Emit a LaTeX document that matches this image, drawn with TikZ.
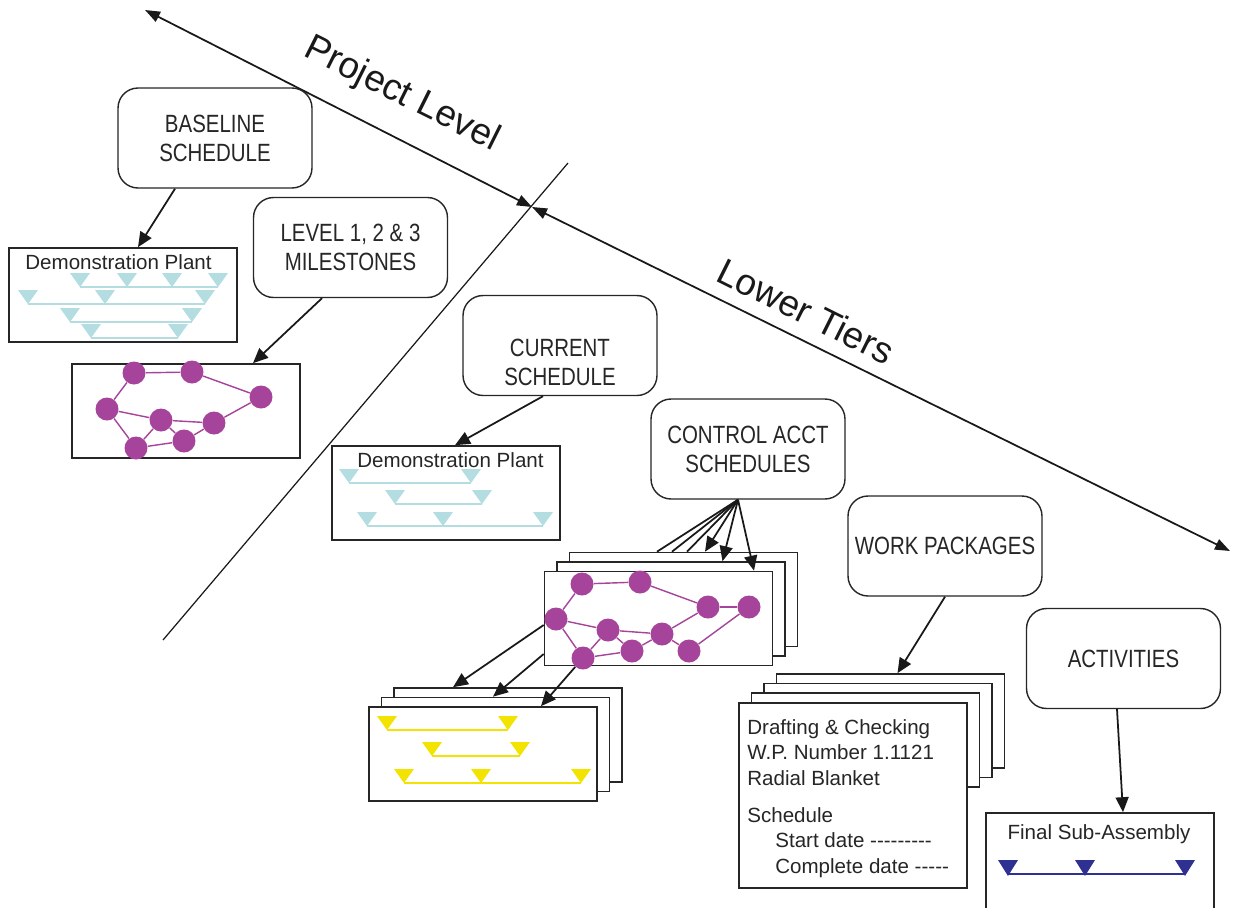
\documentclass[tikz,border=0pt]{standalone}
\usepackage{fontspec}
\setmainfont{Liberation Sans}
\newfontfamily\condfont[FakeStretch=0.82]{Liberation Sans}
\usetikzlibrary{arrows.meta}
\definecolor{hellblau}{HTML}{B3DDE1}
\definecolor{lila}{HTML}{A5449A}
\definecolor{gelb}{HTML}{F2E400}
\definecolor{dunkelblau}{HTML}{2E3192}

\begin{document}
\begin{tikzpicture}[x=0.02cm,y=-0.02cm]
				% Einstellungen für Kästchen, Pläne und Pfeile
				\tikzset{
					rbox/.style={
						draw=black!85, % dunkle Linie
						line width=0.8pt,
						rounded corners=0.4cm, % runde Ecken
						fill=white,
						minimum width=3.88cm, minimum height=2cm,
						align=center,
						text=black!85,
						font=\condfont\fontsize{14.2}{16.5}\selectfont
					},
					rtext/.style={align=center, text=black!85, font=\condfont\fontsize{14.2}{16.5}\selectfont},
					plan/.style={
						draw=black!85, line width=0.95pt, fill=white, % weißes Blatt
						minimum width=4.56cm, minimum height=1.88cm, inner sep=0pt
					},
					titel/.style={font=\fontsize{11.7}{14.5}\selectfont, text=black!85, inner sep=0pt},
					gross/.style={font=\fontsize{21}{25}\selectfont, text=black!90},
					dot/.style={circle, fill=lila, minimum size=0.46cm, inner sep=0pt},
					kante/.style={draw=lila, line width=0.8pt},
					linie/.style={draw=black!90, line width=1pt},
					pfeil/.style={linie, -{Triangle[length=3mm,width=2.6mm]}},
					doppelpfeil/.style={linie, {Triangle[length=3mm,width=2.2mm]}-{Triangle[length=3mm,width=2.2mm]}}
				}
				\useasboundingbox (0,0) rectangle (1238,907);
				
				% Grosse Achse mit Trennlinie
				\coordinate (pl) at (145,10);
				\coordinate (kreuz) at (532,207);
				\coordinate (lt) at (1230,551);
				\coordinate (t1) at (163,640);
				\coordinate (t2) at (568,163);
				\draw[doppelpfeil] (pl) -- (kreuz);
				\draw[doppelpfeil] (kreuz) -- (lt);
				\draw[draw=black!90, line width=0.7pt] (t1) -- (t2);
				\node[gross, rotate=-26.5] (projlvl) at (402,95) {Project Level};
				\node[gross, rotate=-26.5] (lowtier) at (806,311) {Lower Tiers};
				
				% Runde Kästchen
				\node[rbox] (base) at (215,138) {BASELINE\\SCHEDULE};
				\node[rbox] (lev) at (350.5,247.5) {LEVEL 1, 2 \& 3\\MILESTONES};
				\node[rbox] (cur) at (560,345.5) {};
				\node[rtext] (curtext) at (560,362) {CURRENT\\SCHEDULE};
				\node[rbox] (ctrl) at (748,449) {CONTROL ACCT\\SCHEDULES};
				\node[rbox] (work) at (945,546) {WORK PACKAGES};
				\node[rbox] (act) at (1123.5,658.5) {ACTIVITIES};
				
				% Baseline: Demonstration Plant
				\node[plan] (demoA) at (123,295) {};
				\node[titel, anchor=base] (demoAtitel) at (118.5,269) {Demonstration Plant};
				\foreach \a/\b/\y in {80/218/287, 28/205/304, 70/192/322, 91/178/338}
					\draw[hellblau, line width=0.9pt] (\a,\y) -- (\b,\y);
				\foreach \x/\y in {80/287, 127/287, 172/287, 218/287, 28/304, 105/304, 205/304, 70/322, 192/322, 91/338, 178/338}
					\fill[hellblau] (\x-10,\y-14) -- (\x+10,\y-14) -- (\x,\y) -- cycle;
				
				% Netzplan der Meilensteine
				\node[plan] (netA) at (186,411) {};
				\foreach \n/\x/\y in {1/134/373, 2/192/372, 3/261/397, 4/107/409, 5/161/420, 6/214/423, 7/184/441, 8/136/448}
					\node[dot] (a\n) at (\x,\y) {};
				\foreach \p/\q in {1/2, 2/3, 1/4, 4/5, 5/6, 6/3, 4/8, 8/7, 5/8, 5/7, 7/6}
					\draw[kante] (a\p) -- (a\q);
				
				% Current: Demonstration Plant
				\node[plan] (demoB) at (446,493) {};
				\node[titel, anchor=base] (demoBtitel) at (450.5,467) {Demonstration Plant};
				\foreach \a/\b/\y in {349/471/483, 395/482/504, 367/543/526}
					\draw[hellblau, line width=0.9pt] (\a,\y) -- (\b,\y);
				\foreach \x/\y in {349/483, 471/483, 395/504, 482/504, 367/526, 443/526, 543/526}
					\fill[hellblau] (\x-10,\y-14) -- (\x+10,\y-14) -- (\x,\y) -- cycle;
				
				% Control Account: Stapel mit Netzplan
				\foreach \i in {2,1}
					\node[plan] (netC\i) at ({658.5+12.5*\i},{618.5-9.5*\i}) {};
				\node[plan] (netC) at (658.5,618.5) {};
				\foreach \n/\x/\y in {1/582/584, 2/640/582, 3/708/607, 4/749/607, 5/556/619, 6/608/630, 7/662/634, 8/632/651, 9/689/651, 10/583/658}
					\node[dot] (c\n) at (\x,\y) {};
				\foreach \p/\q in {1/2, 2/3, 3/4, 1/5, 5/6, 6/7, 7/3, 5/10, 10/8, 6/10, 6/8, 8/7, 7/9, 9/4}
					\draw[kante] (c\p) -- (c\q);
				
				% Stapel mit gelben Meilensteinen
				\foreach \i in {2,1}
					\node[plan] (ms\i) at ({483+12.5*\i},{754-9.5*\i}) {};
				\node[plan] (ms) at (483,754) {};
				\foreach \a/\b/\y in {387/508/730, 432/520/756, 404/581/783}
					\draw[gelb, line width=0.8pt] (\a,\y) -- (\b,\y);
				\foreach \x/\y in {387/730, 508/730, 432/756, 520/756, 404/783, 481/783, 581/783}
					\fill[gelb] (\x-10,\y-14) -- (\x+10,\y-14) -- (\x,\y) -- cycle;
				
				% Work Package Blätter
				\foreach \i in {3,2,1}
					\node[plan] (wp\i) at ({853+12.5*\i},{749.5-9.5*\i}) {};
				\node[plan, minimum height=3.7cm] (wp) at (853,795.5) {};
				\node[titel, anchor=north west, align=left] (wptext) at (747,719)
					{Drafting \& Checking\\W.P. Number 1.1121\\Radial Blanket\\[6.5pt]
					Schedule\\
					\hspace*{0.56cm}Start date -{}-{}-{}-{}-{}-{}-{}-{}-\\
					\hspace*{0.56cm}Complete date -{}-{}-{}-{}-};
				
				% Activities: Final Sub-Assembly
				\node[plan, minimum height=2.04cm] (final) at (1100,864) {};
				\node[titel, anchor=base] (finaltitel) at (1099,839) {Final Sub-Assembly};
				\draw[dunkelblau, line width=0.8pt] (1008,874) -- (1185,874);
				\foreach \x in {1008, 1085, 1185}
					\fill[dunkelblau] (\x-10,860) -- (\x+10,860) -- (\x,876) -- cycle;
				
				% Pfeile zwischen den Kästchen
				\draw[pfeil] ([xshift=-0.8cm]base.south) -- ([xshift=0.3cm]demoA.north);
				\draw[pfeil] ([xshift=-0.57cm]lev.south) -- ([xshift=1.34cm]netA.north);
				\draw[pfeil] ([xshift=-0.34cm]cur.south) -- ([xshift=0.18cm]demoB.north);
				\foreach \s in {-0.53, -0.23, 0.07}
					\draw[linie] ([xshift=-0.2cm]ctrl.south) -- ([xshift=\s cm]netC2.north);
				\draw[pfeil] ([xshift=-0.2cm]ctrl.south) -- ([xshift=0.43cm]netC2.north);
				\draw[pfeil] ([xshift=-0.2cm]ctrl.south) -- ([xshift=1.03cm]netC1.north);
				\draw[pfeil] ([xshift=-0.2cm]ctrl.south) -- ([xshift=1.91cm]netC.north);
				\draw[pfeil] ([yshift=-0.13cm]netC.west) -- ([xshift=-1.1cm]ms2.north);
				\draw[pfeil] ([yshift=-0.71cm]netC.west) -- ([xshift=-0.05cm]ms1.north);
				\draw[pfeil] (c10) -- ([xshift=1.16cm]ms.north);
				\draw[pfeil] (work.south) -- ([xshift=0.14cm]wp3.north);
				\draw[pfeil] ([xshift=-0.13cm]act.south) -- ([xshift=0.46cm]final.north);
			\end{tikzpicture}
\end{document}
